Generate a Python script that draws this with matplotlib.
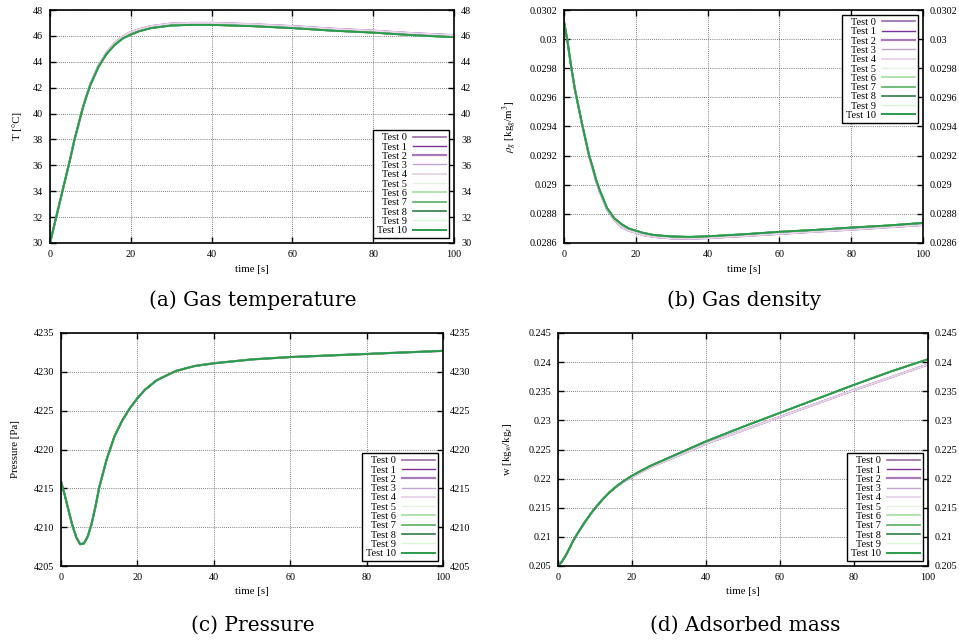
import numpy as np
import matplotlib
matplotlib.use("Agg")
import matplotlib.pyplot as plt
from matplotlib.ticker import FuncFormatter, MultipleLocator

plt.rcParams['font.family'] = ['Liberation Serif', 'DejaVu Serif']
plt.rcParams['mathtext.fontset'] = 'stix'

# sampled times (s)
t = [0, 1, 2, 3, 4, 5, 6, 7, 8, 9, 10, 12, 14, 16, 18, 20, 22, 25, 30, 35, 40, 50, 60, 70, 80, 90, 100]

# gas temperature [C]
temp_green = [30.0, 31.3, 32.6, 33.9, 35.2, 36.5, 37.9, 39.1, 40.3, 41.3, 42.2, 43.6, 44.6, 45.3, 45.8, 46.1,
              46.35, 46.6, 46.8, 46.85, 46.85, 46.75, 46.6, 46.4, 46.25, 46.05, 45.9]
temp_purple = [30.0, 31.3, 32.6, 33.9, 35.2, 36.5, 37.9, 39.1, 40.3, 41.35, 42.3, 43.7, 44.7, 45.45, 45.95, 46.3,
               46.5, 46.75, 46.95, 47.0, 47.0, 46.9, 46.75, 46.55, 46.4, 46.2, 46.05]

# gas density [kg/m3]
rho_green = [0.03012, 0.02998, 0.02981, 0.02966, 0.02954, 0.02942, 0.02931, 0.02920, 0.02912, 0.02903, 0.02896,
             0.02884, 0.02877, 0.02873, 0.02870, 0.028685, 0.02867, 0.028655, 0.028645, 0.028642, 0.028646,
             0.02866, 0.028677, 0.02869, 0.028706, 0.02872, 0.028738]
rho_purple = [0.03012, 0.02998, 0.02981, 0.02966, 0.02954, 0.02942, 0.02931, 0.02920, 0.02911, 0.02902, 0.02895,
              0.02883, 0.02876, 0.02871, 0.028685, 0.028672, 0.028655, 0.028642, 0.028632, 0.02863, 0.028634,
              0.028648, 0.028663, 0.028678, 0.028692, 0.028708, 0.028724]

# pressure [Pa]
pres = [4215.9, 4214.1, 4212.1, 4210.2, 4208.7, 4207.8, 4207.9, 4208.8, 4210.4, 4212.6, 4215.1, 4218.8,
        4221.7, 4223.7, 4225.3, 4226.6, 4227.7, 4228.9, 4230.1, 4230.75, 4231.1, 4231.6, 4231.9, 4232.1,
        4232.3, 4232.5, 4232.7]

# adsorbed mass [kg_w/kg_s]
w_green = [0.2050, 0.2057, 0.2067, 0.2079, 0.2092, 0.2103, 0.2113, 0.2123, 0.2132, 0.2141, 0.2149, 0.2164,
           0.2177, 0.2188, 0.2197, 0.2205, 0.2212, 0.2222, 0.2236, 0.2250, 0.2264, 0.2289, 0.2313, 0.2337,
           0.2361, 0.2384, 0.2405]
w_purple = [0.2050, 0.2057, 0.2067, 0.2079, 0.2092, 0.2103, 0.2113, 0.2123, 0.2132, 0.2141, 0.2149, 0.2164,
            0.2177, 0.2187, 0.2196, 0.2203, 0.2210, 0.2220, 0.2233, 0.2246, 0.2260, 0.2283, 0.2306, 0.2329,
            0.2352, 0.2374, 0.2396]

tests = ["Test %d" % i for i in range(11)]
colors = ['#9b6aa5', '#7b3294', '#a77ab8', '#c2a5cf', '#e7d4e8', '#e3f3de',
          '#a6dba0', '#5aae61', '#2f7d45', '#d9f7d4', '#2a9a4c']
widths = [1.2, 1.0, 1.6, 1.0, 1.4, 1.0, 1.2, 1.2, 1.2, 1.0, 1.4]

W, H = 959, 641
fig = plt.figure(figsize=(W / 100, H / 100), dpi=100)


def make_axes(x0, y0, x1, y1):
    return fig.add_axes([x0 / W, 1 - y1 / H, (x1 - x0) / W, (y1 - y0) / H])


panels = [
    dict(box=(50, 10, 454, 243), purple=temp_purple, green=temp_green, ylim=(30, 48), step=2,
         ylabel='T [°C]', loc='lower right', cap='(a) Gas temperature', capx=253, capy=300, ylx=17),
    dict(box=(564, 10, 923, 243), purple=rho_purple, green=rho_green, ylim=(0.0286, 0.0302), step=0.0002,
         ylabel=r'$\rho_g$ [kg$_g$/m$^3$]', loc='upper right', cap='(b) Gas density', capx=744, capy=300, ylx=510),
    dict(box=(61, 333, 443, 566), purple=pres, green=pres, ylim=(4205, 4235), step=5,
         ylabel='Pressure [Pa]', loc='lower right', cap='(c) Pressure', capx=253, capy=625, ylx=16),
    dict(box=(558, 333, 928, 566), purple=w_purple, green=w_green, ylim=(0.205, 0.245), step=0.005,
         ylabel=r'w [kg$_w$/kg$_s$]', loc='lower right', cap='(d) Adsorbed mass', capx=745, capy=625, ylx=508),
]

fmt = FuncFormatter(lambda v, p: '%g' % round(v, 6))

for p in panels:
    ax = make_axes(*p['box'])
    for i in range(11):
        y = p['purple'] if i < 5 else p['green']
        ax.plot(t, y, color=colors[i], lw=widths[i], label=tests[i])
    ax.set_xlim(0, 100)
    ax.set_ylim(*p['ylim'])
    ax.xaxis.set_major_locator(MultipleLocator(20))
    ax.yaxis.set_major_locator(MultipleLocator(p['step']))
    ax.yaxis.set_major_formatter(fmt)
    ax.grid(True, color='#555555', linestyle=(0, (1, 1.5)), linewidth=0.6)
    ax.tick_params(direction='in', top=True, right=True, labelright=True, length=4, width=1.0,
                   labelsize=7.3, pad=5)
    for s in ax.spines.values():
        s.set_linewidth(1.2)
    ax.set_xlabel('time [s]', fontsize=7.8, labelpad=4)
    fig.text(p['ylx'] / W, 1 - (p['box'][1] + p['box'][3]) / 2 / H, p['ylabel'], rotation=90,
             ha='center', va='center', fontsize=7.8)
    leg = ax.legend(loc=p['loc'], markerfirst=False, fontsize=7.5, handlelength=3.2, labelspacing=0.0,
                    borderpad=0.3, handletextpad=0.6, fancybox=False, framealpha=1, borderaxespad=0.45)
    leg.get_frame().set_edgecolor('black')
    leg.get_frame().set_linewidth(1.0)
    fig.text(p['capx'] / W, 1 - p['capy'] / H, p['cap'], ha='center', va='center', fontsize=14.5,
             family=['DejaVu Serif'])

fig.savefig('out.png', dpi=100)
